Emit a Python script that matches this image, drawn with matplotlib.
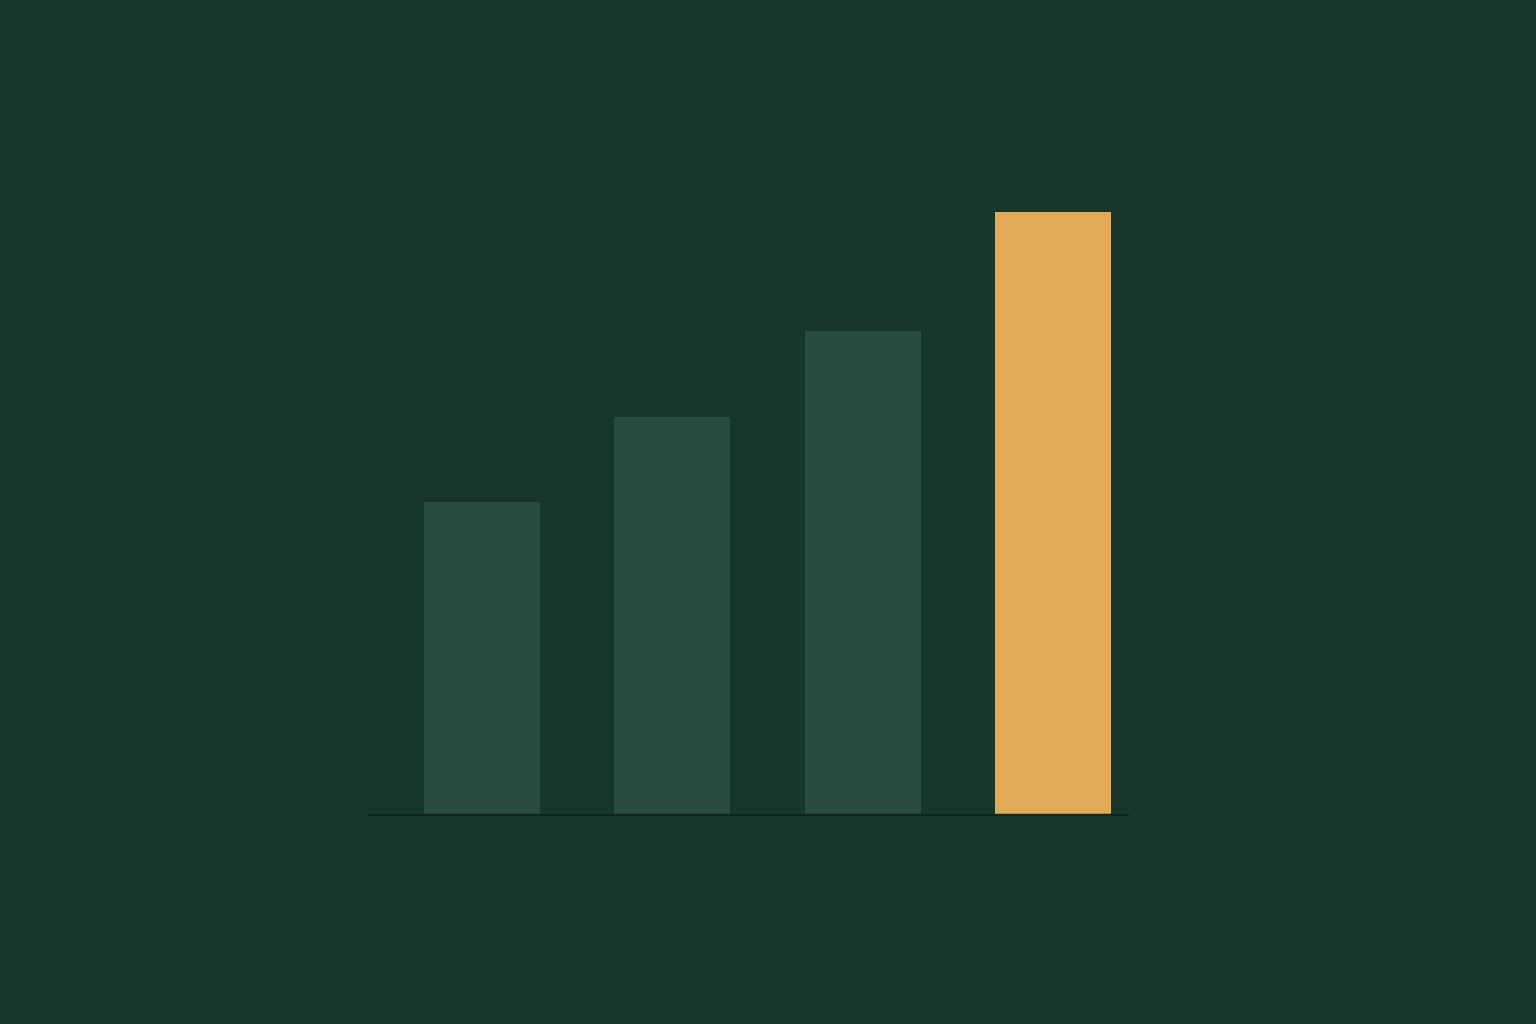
import matplotlib
matplotlib.use("Agg")
import matplotlib.pyplot as plt

# data
categories = ["A", "B", "C", "D"]
values = [52, 66, 80.3, 100]
colors = ["#284c3e", "#284c3e", "#284c3e", "#e3aa55"]

bg = "#17372c"

fig = plt.figure(figsize=(15.36, 10.24), dpi=100, facecolor=bg)
ax = fig.add_axes([368 / 1536, (1024 - 816) / 1024, (1129 - 368) / 1536, 604 / 1024])
ax.set_facecolor(bg)

x = range(len(categories))
ax.bar(x, values, width=0.61, color=colors, zorder=2)
# dark baseline under the bars
ax.axhline(0, color="#0f281f", linewidth=3.2, zorder=3)

ax.set_xlim(-0.6, 3.4)
ax.set_ylim(0, 100)
ax.axis("off")

fig.savefig("out.png", dpi=100, facecolor=bg)
